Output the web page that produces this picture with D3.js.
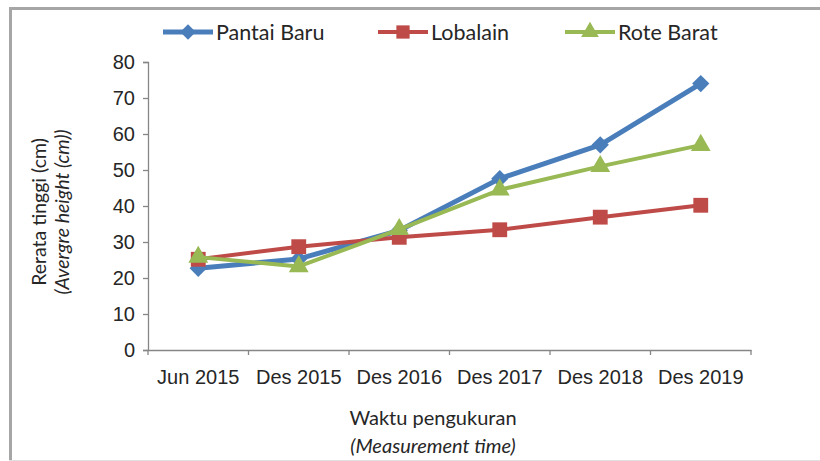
<!DOCTYPE html>
<html>
<head>
<meta charset="utf-8">
<script src="https://d3js.org/d3.v7.min.js"></script>
<style>
  body { margin: 0; background: #fff; }
  svg { font-family: "Lato", "Open Sans", sans-serif; }
</style>
</head>
<body>
<svg id="chart"></svg>
<script>
// data
const categories = ["Jun 2015", "Des 2015", "Des 2016", "Des 2017", "Des 2018", "Des 2019"];
const pantaiBaru = [22.7, 25.3, 33.2, 47.6, 57.0, 74.0];
const lobalain = [25.2, 28.7, 31.3, 33.4, 36.9, 40.2];
const roteBarat = [25.8, 23.2, 33.5, 44.5, 51.0, 56.9];
const yTicks = [0, 10, 20, 30, 40, 50, 60, 70, 80];

const series = [
  { name: "Pantai Baru", values: pantaiBaru, color: "#4A7EBB", width: 5, symbol: d3.symbolDiamond2 || d3.symbolDiamond, size: 190 },
  { name: "Lobalain", values: lobalain, color: "#BE4B48", width: 4, symbol: d3.symbolSquare, size: 220 },
  { name: "Rote Barat", values: roteBarat, color: "#98B954", width: 4, symbol: d3.symbolTriangle, size: 170 }
];

const width = 820, height = 461;
const svg = d3.select("#chart").attr("width", width).attr("height", height);

// frame
svg.append("line").attr("x1", 9).attr("x2", 820).attr("y1", 8.5).attr("y2", 8.5)
  .attr("stroke", "#a6a6a6").attr("stroke-width", 3);
svg.append("line").attr("x1", 10.5).attr("x2", 10.5).attr("y1", 8).attr("y2", 461)
  .attr("stroke", "#a6a6a6").attr("stroke-width", 3);
svg.append("line").attr("x1", 9).attr("x2", 820).attr("y1", 460.5).attr("y2", 460.5)
  .attr("stroke", "#e0e0e0").attr("stroke-width", 1);

// scales
const x = d3.scaleBand().domain(categories).range([148, 751]);
const y = d3.scaleLinear().domain([0, 80]).range([350, 62]);

// axes
const yAxis = svg.append("g")
  .attr("transform", "translate(148,0)")
  .call(d3.axisLeft(y).tickValues(yTicks).tickSize(5).tickPadding(8));
const xAxis = svg.append("g")
  .attr("transform", "translate(0,350)")
  .call(d3.axisBottom(x).tickSize(0).tickPadding(20));
// category boundary ticks
xAxis.selectAll(".bound")
  .data(d3.range(categories.length + 1))
  .join("line")
  .attr("class", "bound")
  .attr("x1", i => 148 + i * x.step())
  .attr("x2", i => 148 + i * x.step())
  .attr("y1", 0).attr("y2", 5);

[yAxis, xAxis].forEach(g => {
  g.select(".domain").attr("stroke", "#868686").attr("stroke-width", 1.3);
  g.selectAll("line").attr("stroke", "#868686").attr("stroke-width", 1.3);
  g.selectAll("text").attr("fill", "#262626").style("font-size", "20px");
});

// axis titles
const yTitle = svg.append("text")
  .attr("transform", "translate(46,212) rotate(-90)")
  .attr("text-anchor", "middle")
  .style("font-size", "19.5px").attr("fill", "#262626");
yTitle.append("tspan").attr("x", 0).attr("dy", 0).text("Rerata tinggi (cm)");
yTitle.append("tspan").attr("x", 0).attr("dy", 23).style("font-style", "italic").text("(Avergre height (cm))");

svg.append("text").attr("x", 433).attr("y", 425).attr("text-anchor", "middle")
  .style("font-size", "20px").attr("fill", "#262626").text("Waktu pengukuran");
svg.append("text").attr("x", 433).attr("y", 453).attr("text-anchor", "middle")
  .style("font-size", "20px").style("font-style", "italic").attr("fill", "#262626").text("(Measurement time)");

// lines
const line = d3.line()
  .x((d, i) => x(categories[i]) + x.bandwidth() / 2)
  .y(d => y(d));

series.forEach(s => {
  svg.append("path")
    .datum(s.values)
    .attr("d", line)
    .attr("fill", "none")
    .attr("stroke", s.color)
    .attr("stroke-width", s.width)
    .attr("stroke-linejoin", "round");
  svg.append("g").selectAll("path")
    .data(s.values)
    .join("path")
    .attr("d", d3.symbol(s.symbol, s.size))
    .attr("transform", (d, i) => `translate(${x(categories[i]) + x.bandwidth() / 2},${y(d)})`)
    .attr("fill", s.color);
});

// legend
const legendX = [163, 378, 565];
const legend = svg.append("g");
series.forEach((s, i) => {
  const g = legend.append("g").attr("transform", `translate(${legendX[i]},32)`);
  g.append("line").attr("x1", 0).attr("x2", 50).attr("y1", 0).attr("y2", 0)
    .attr("stroke", s.color).attr("stroke-width", s.width);
  g.append("path").attr("d", d3.symbol(s.symbol, s.size * 0.8))
    .attr("transform", "translate(25,0)").attr("fill", s.color);
  g.append("text").attr("x", 53).attr("y", 7.5).style("font-size", "21.5px")
    .attr("fill", "#262626").text(s.name);
});
</script>
</body>
</html>
